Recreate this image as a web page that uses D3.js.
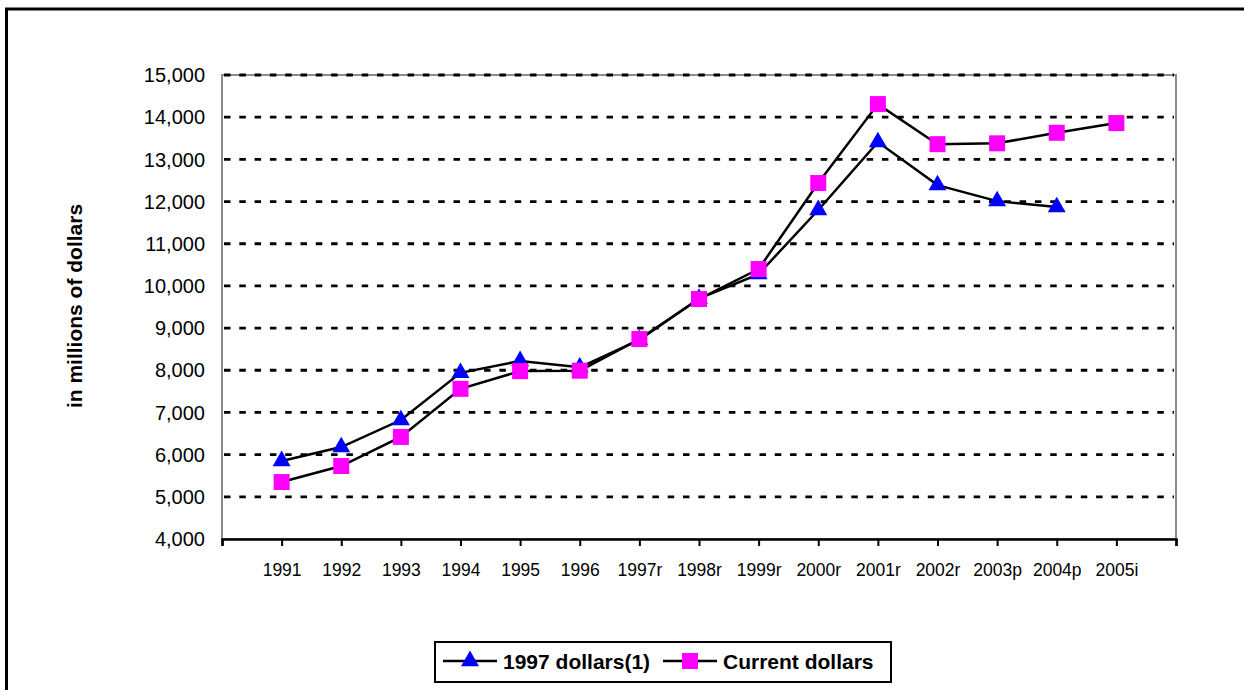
<html>
<head>
    <style>
        body {
            margin: 0;
            background: #fff;
        }
        svg text {
            font-family: Arial, "Liberation Sans", sans-serif;
        }
    </style>
    <script src="https://d3js.org/d3.v7.min.js"></script>
</head>
<body>
    <svg id="chart"></svg>
    <script>
        var categories = ["1991", "1992", "1993", "1994", "1995", "1996", "1997r", "1998r", "1999r",
            "2000r", "2001r", "2002r", "2003p", "2004p", "2005i"];

        // 1997 dollars(1), stops at 2004p
        var constDollars = [5850, 6180, 6820, 7940, 8220, 8070, 8720, 9700, 10280,
            11800, 13410, 12390, 12010, 11870];

        var currentDollars = [5350, 5730, 6420, 7560, 7980, 7990, 8740, 9690, 10400,
            12440, 14310, 13360, 13380, 13630, 13860];

        var yTicks = [4000, 5000, 6000, 7000, 8000, 9000, 10000, 11000, 12000, 13000, 14000, 15000];

        var W = 1244, H = 690;
        var svg = d3.select("#chart").attr("width", W).attr("height", H);

        // outer frame (runs off the right and bottom)
        svg.append("rect")
            .attr("x", 6.5).attr("y", 9)
            .attr("width", W + 20).attr("height", H + 20)
            .attr("fill", "none").attr("stroke", "#000").attr("stroke-width", 3);

        // plot box (window.top is reserved, so use other names)
        var pLeft = 222, pRight = 1176, pTop = 75, pBottom = 539;

        var x = d3.scaleLinear()
            .domain([0, categories.length + 1])
            .range([pLeft, pRight]);

        var y = d3.scaleLinear()
            .domain([4000, 15000])
            .range([pBottom, pTop]);

        var g = svg.append("g");

        // plot area border
        g.append("rect")
            .attr("x", pLeft).attr("y", pTop)
            .attr("width", pRight - pLeft).attr("height", pBottom - pTop)
            .attr("fill", "none").attr("stroke", "#8c8c8c").attr("stroke-width", 2);

        // dashed gridlines
        g.selectAll("line.grid")
            .data(yTicks.slice(1))
            .enter().append("line")
            .attr("class", "grid")
            .attr("x1", pLeft + 2).attr("x2", pRight - 2)
            .attr("y1", d => y(d)).attr("y2", d => y(d))
            .attr("stroke", "#000").attr("stroke-width", 2.8)
            .attr("stroke-dasharray", "6.5,8.8");

        // y tick labels
        g.selectAll("text.ytick")
            .data(yTicks)
            .enter().append("text")
            .attr("class", "ytick")
            .attr("x", 205).attr("y", d => y(d))
            .attr("dy", "0.36em")
            .attr("text-anchor", "end")
            .attr("font-size", 20)
            .text(d => d3.format(",")(d));

        // x axis
        var xAxis = d3.axisBottom(x)
            .tickValues(d3.range(0, categories.length + 2))
            .tickSize(7)
            .tickFormat(d => (d >= 1 && d <= categories.length) ? categories[d - 1] : "");

        var ax = g.append("g")
            .attr("transform", "translate(0," + pBottom + ")")
            .call(xAxis);
        ax.select(".domain").attr("stroke", "#000").attr("stroke-width", 2.5);
        ax.selectAll(".tick line").attr("stroke", "#000").attr("stroke-width", 2);
        ax.selectAll(".tick text")
            .attr("font-size", 17.5)
            .attr("font-family", "Arial, 'Liberation Sans', sans-serif")
            .attr("fill", "#000")
            .attr("dy", "1.55em");

        // y axis title
        svg.append("text")
            .attr("transform", "translate(82,306) rotate(-90)")
            .attr("text-anchor", "middle")
            .attr("font-size", 21)
            .attr("font-weight", "bold")
            .text("in millions of dollars");

        var line = d3.line()
            .x((d, i) => x(i + 1))
            .y(d => y(d));

        g.append("path").datum(constDollars)
            .attr("d", line)
            .attr("fill", "none").attr("stroke", "#000").attr("stroke-width", 2.5);

        g.append("path").datum(currentDollars)
            .attr("d", line)
            .attr("fill", "none").attr("stroke", "#000").attr("stroke-width", 2.5);

        var tri = d3.symbol().type(d3.symbolTriangle).size(140);

        g.selectAll("path.tri")
            .data(constDollars)
            .enter().append("path")
            .attr("class", "tri")
            .attr("d", tri)
            .attr("transform", (d, i) => "translate(" + x(i + 1) + "," + y(d) + ")")
            .attr("fill", "#0000ff");

        g.selectAll("rect.sq")
            .data(currentDollars)
            .enter().append("rect")
            .attr("class", "sq")
            .attr("x", (d, i) => x(i + 1) - 8)
            .attr("y", d => y(d) - 8)
            .attr("width", 16).attr("height", 16)
            .attr("fill", "#ff00ff");

        // legend
        var lg = svg.append("g");
        lg.append("rect")
            .attr("x", 435).attr("y", 642)
            .attr("width", 456).attr("height", 40)
            .attr("fill", "#fff").attr("stroke", "#000").attr("stroke-width", 2);

        var ly = 661;
        lg.append("line").attr("x1", 443).attr("x2", 497).attr("y1", ly).attr("y2", ly)
            .attr("stroke", "#000").attr("stroke-width", 2.5);
        lg.append("path").attr("d", tri)
            .attr("transform", "translate(470," + ly + ")")
            .attr("fill", "#0000ff");
        lg.append("text").attr("x", 503).attr("y", ly).attr("dy", "0.36em")
            .attr("font-size", 21).attr("font-weight", "bold")
            .text("1997 dollars(1)");

        lg.append("line").attr("x1", 663).attr("x2", 717).attr("y1", ly).attr("y2", ly)
            .attr("stroke", "#000").attr("stroke-width", 2.5);
        lg.append("rect").attr("x", 682).attr("y", ly - 8)
            .attr("width", 16).attr("height", 16)
            .attr("fill", "#ff00ff");
        lg.append("text").attr("x", 723).attr("y", ly).attr("dy", "0.36em")
            .attr("font-size", 21).attr("font-weight", "bold")
            .text("Current dollars");
    </script>
</body>
</html>
